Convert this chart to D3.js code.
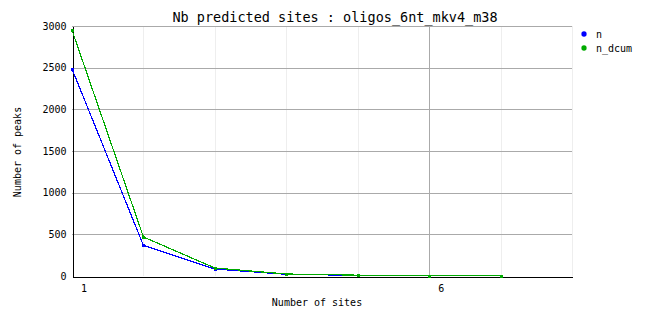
<!DOCTYPE html>
<html><head><meta charset="utf-8">
<script src="https://cdn.jsdelivr.net/npm/d3@7"></script>
<style>
body{margin:0;background:#fff;}
text{font-family:"DejaVu Sans Mono",monospace;fill:#000;}
</style></head>
<body>
<svg id="c" width="662" height="328"></svg>
<script>
const title = "Nb predicted sites : oligos_6nt_mkv4_m38";
const xLabel = "Number of sites";
const yLabel = "Number of peaks";
const sites = [1, 2, 3, 4, 5, 6, 7];
const nValues = [2485, 367, 84, 20, 8, 4, 3];
const nDcumValues = [2950, 468, 96, 24, 10, 5, 4];
const seriesNames = ["n", "n_dcum"];
const seriesColors = ["#0000ff", "#00aa00"];
const yTicks = [0, 500, 1000, 1500, 2000, 2500, 3000];
const xTickLabels = [1, 6];
const xGrid = [2, 3, 4, 5, 7, 8];

const svg = d3.select("#c");
const L = 72, R = 572, T = 26, B = 276;
const x = d3.scaleLinear().domain([1, 8]).range([L, R]);
const y = d3.scaleLinear().domain([0, 3000]).range([B, T]);

// minor vertical grid
svg.append("g").selectAll("line").data(xGrid).join("line")
  .attr("x1", d => Math.round(x(d)) + 0.5).attr("x2", d => Math.round(x(d)) + 0.5)
  .attr("y1", T).attr("y2", B)
  .attr("stroke", "#eeeeee").attr("shape-rendering", "crispEdges");
// major vertical grid at 6
svg.append("line")
  .attr("x1", Math.round(x(6)) + 0.5).attr("x2", Math.round(x(6)) + 0.5)
  .attr("y1", T).attr("y2", B)
  .attr("stroke", "#aaaaaa").attr("shape-rendering", "crispEdges");
// horizontal grid
svg.append("g").selectAll("line").data(yTicks.filter(d => d > 0)).join("line")
  .attr("x1", L).attr("x2", R)
  .attr("y1", d => Math.round(y(d)) + 0.5).attr("y2", d => Math.round(y(d)) + 0.5)
  .attr("stroke", "#aaaaaa").attr("shape-rendering", "crispEdges");

// y axis
const yAxis = d3.axisLeft(y).tickValues(yTicks).tickSize(0).tickPadding(6).tickFormat(d3.format("d"));
const gy = svg.append("g").attr("transform", `translate(${L + 0.5},0)`).call(yAxis);
gy.select(".domain").attr("stroke", "#000").attr("shape-rendering", "crispEdges");
gy.selectAll("text").style("font-size", "10px").style("font-family", "DejaVu Sans Mono");

// x axis
const xAxis = d3.axisBottom(x).tickValues(xTickLabels).tickSize(0).tickPadding(8).tickFormat(d3.format("d"));
const gx = svg.append("g").attr("transform", `translate(0,${B + 0.5})`).call(xAxis);
gx.select(".domain").attr("stroke", "#000").attr("shape-rendering", "crispEdges");
gx.selectAll("text").style("font-size", "10px").style("font-family", "DejaVu Sans Mono")
  .attr("dx", 11.5);

// series
const series = [nValues, nDcumValues];
const line = d3.line().x((d, i) => x(sites[i])).y(d => y(d));
series.forEach((vals, si) => {
  svg.append("path").datum(vals)
    .attr("d", line).attr("fill", "none")
    .attr("stroke", seriesColors[si]).attr("stroke-width", 1.2)
    .attr("shape-rendering", "crispEdges");
  svg.append("g").selectAll("rect").data(vals).join("rect")
    .attr("x", (d, i) => Math.round(x(sites[i])) - 1)
    .attr("y", d => Math.round(y(d)) - 1)
    .attr("width", 3).attr("height", 3)
    .attr("fill", seriesColors[si]);
});

// title
svg.append("text").attr("x", 335).attr("y", 22).attr("text-anchor", "middle")
  .style("font-size", "13.5px").text(title);
// axis labels
svg.append("text").attr("x", 317).attr("y", 306).attr("text-anchor", "middle")
  .style("font-size", "10px").text(xLabel);
svg.append("text").attr("transform", "translate(21,152) rotate(-90)").attr("text-anchor", "middle")
  .style("font-size", "10px").text(yLabel);

// legend
seriesNames.forEach((nm, i) => {
  const ly = 34 + i * 14;
  svg.append("path").attr("transform", `translate(584,${ly})`)
    .attr("d", d3.symbol().type(d3.symbolCircle).size(22)())
    .attr("fill", seriesColors[i]);
  svg.append("text").attr("x", 596).attr("y", ly + 3.5)
    .style("font-size", "10px").text(nm);
});
</script>
</body></html>
